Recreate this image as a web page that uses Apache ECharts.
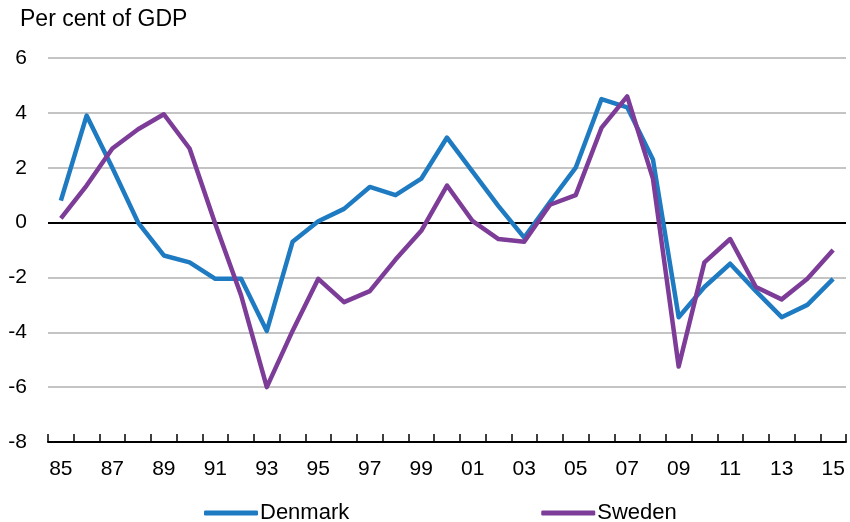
<!DOCTYPE html>
<html>
<head>
<meta charset="utf-8">
<script src="https://cdn.jsdelivr.net/npm/echarts@6/dist/echarts.min.js"></script>
<style>html,body{margin:0;padding:0;background:#fff}#c{width:850px;height:522px}</style>
</head>
<body>
<div id="c"></div>
<script>
const years = ['85','86','87','88','89','90','91','92','93','94','95','96','97','98','99','00','01','02','03','04','05','06','07','08','09','10','11','12','13','14','15'];
const denmark = [0.8,3.9,2.0,0.0,-1.2,-1.45,-2.05,-2.05,-3.95,-0.7,0.05,0.5,1.3,1.0,1.6,3.1,1.85,0.6,-0.55,0.75,2.0,4.5,4.2,2.3,-3.45,-2.35,-1.5,-2.5,-3.45,-3.0,-2.05];
const sweden = [0.15,1.35,2.7,3.4,3.95,2.7,-0.05,-2.65,-6.0,-3.95,-2.05,-2.9,-2.5,-1.35,-0.3,1.35,0.05,-0.6,-0.7,0.65,1.0,3.45,4.6,1.6,-5.25,-1.45,-0.6,-2.35,-2.8,-2.05,-1.0];
const yTicks = {min:-8, max:6, interval:2};
const title = 'Per cent of GDP';

const chart = echarts.init(document.getElementById('c'), null, {renderer:'canvas'});
const font = '"Liberation Sans", Arial, sans-serif';
chart.setOption({
  animation:false,
  backgroundColor:'#fff',
  title:{text:title,left:15,top:3,textStyle:{fontFamily:font,fontSize:23,fontWeight:'normal',color:'#000'}},
  grid:{left:48,right:4,top:58,bottom:80,containLabel:false},
  legend:{
    data:['Denmark','Sweden'],left:199,top:497,itemWidth:54,itemHeight:5,itemGap:192,icon:'roundRect',
    textStyle:{fontFamily:font,fontSize:22,color:'#000',padding:[0,0,0,-3]}
  },
  xAxis:{
    type:'category',data:years,boundaryGap:true,
    axisLine:{onZero:false,lineStyle:{color:'#000',width:2}},
    axisTick:{show:true,inside:true,length:8,lineStyle:{color:'#000',width:1.5},interval:0},
    axisLabel:{interval:1,margin:17,fontFamily:font,fontSize:21,color:'#000'},
    splitLine:{show:false}
  },
  yAxis:{
    type:'value',min:yTicks.min,max:yTicks.max,interval:yTicks.interval,
    axisLine:{show:false},axisTick:{show:false},
    axisLabel:{margin:21,fontFamily:font,fontSize:21,color:'#000'},
    splitLine:{show:true,lineStyle:{color:'#c4c4c4',width:2}}
  },
  series:[
    {name:'Denmark',type:'line',data:denmark,symbol:'none',lineStyle:{color:'#1f7bc1',width:4.5,join:'round'},itemStyle:{color:'#1f7bc1'},
     markLine:{silent:true,symbol:'none',label:{show:false},lineStyle:{color:'#000',width:2,type:'solid'},data:[{yAxis:0}],z:1}},
    {name:'Sweden',type:'line',data:sweden,symbol:'none',lineStyle:{color:'#7d3c98',width:4.5,join:'round'},itemStyle:{color:'#7d3c98'}}
  ]
});
</script>
</body>
</html>
